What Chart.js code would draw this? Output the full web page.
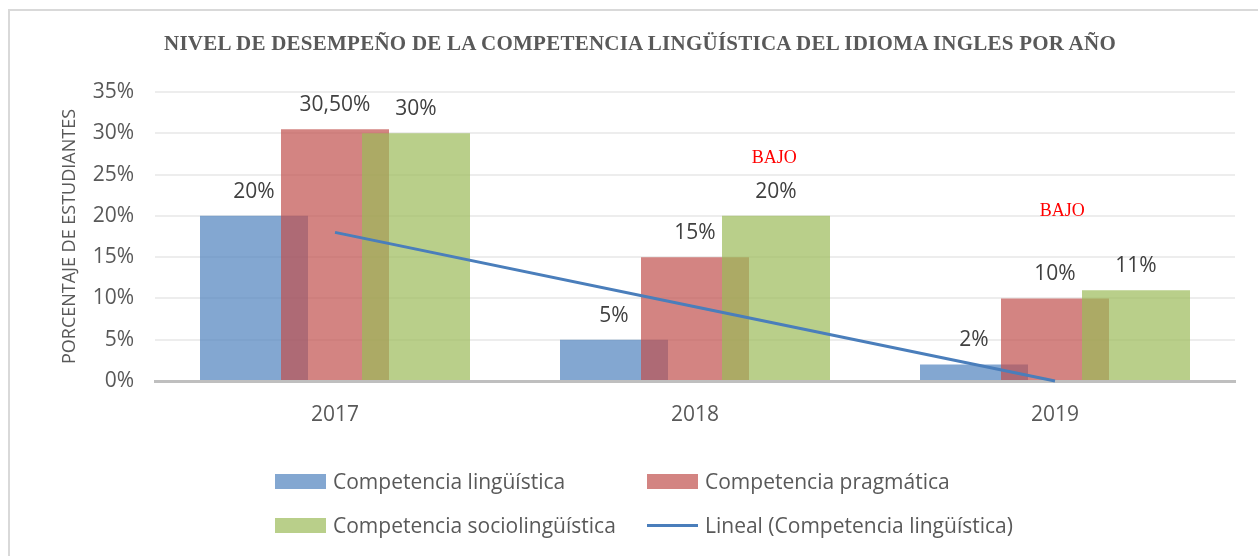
<!DOCTYPE html>
<html>
<head>
<meta charset="utf-8">
<script src="https://cdn.jsdelivr.net/npm/chart.js@4.4.0/dist/chart.umd.min.js"></script>
<style>
  html, body { margin: 0; padding: 0; background: #fff; }
  #wrap { position: relative; width: 1258px; height: 556px; overflow: hidden; }
  #frame { position: absolute; left: 8px; top: 9px; width: 1260px; height: 560px;
           border-top: 2px solid #d9d9d9; border-left: 2px solid #d9d9d9; }
  #chart { position: absolute; left: 0; top: 0; }
  #title { position: absolute; left: 164px; top: 31px; white-space: nowrap;
           font: bold 21px "Liberation Serif", serif; color: #595959; }
  #legend { position: absolute; left: 275px; top: 459px;
            display: grid; grid-template-columns: 372px auto; grid-auto-rows: 44px;
            font: 21px "Open Sans", sans-serif; color: #595959; }
  .item { display: flex; align-items: center; }
  .swatch { width: 51px; height: 15px; margin-right: 7px; }
  .swatch.line { height: 3px; margin-top: 1px; margin-bottom: 1px; }
</style>
</head>
<body>
<div id="wrap">
  <div id="frame"></div>
  <canvas id="chart" width="1258" height="556"></canvas>
  <div id="title">NIVEL DE DESEMPEÑO DE LA COMPETENCIA LINGÜÍSTICA DEL IDIOMA INGLES POR AÑO</div>
  <div id="legend"></div>
</div>
<script>
const years = ["2017", "2018", "2019"];
const linguistica = [20, 5, 2];
const pragmatica = [30.5, 15, 10];
const sociolinguistica = [30, 20, 11];
const tendencia = [18, 9, 0];

const seriesNames = [
  "Competencia lingüística",
  "Competencia pragmática",
  "Competencia sociolingüística",
  "Lineal (Competencia lingüística)"
];
const seriesColors = [
  "rgba(79, 129, 189, 0.7)",
  "rgba(192, 80, 77, 0.7)",
  "rgba(155, 187, 89, 0.7)",
  "#4a7ebb"
];

// red "BAJO" notes, placed on the category / value scales
const bajoText = ["BAJO", "BAJO"];
const bajoX = [1.22, 2.02];
const bajoY = [27, 20.5];

function pct(v) {
  return Number.isInteger(v) ? v + "%" : v.toFixed(2).replace(".", ",") + "%";
}

// draw datasets first to last so later bars sit on top
const drawInOrder = {
  id: "drawInOrder",
  beforeDatasetsDraw(chart) {
    chart.getSortedVisibleDatasetMetas().forEach((meta) => meta.controller.draw());
    return false;
  }
};

const barLabels = {
  id: "barLabels",
  afterDraw(chart) {
    const ctx = chart.ctx;
    ctx.save();
    ctx.font = '21px "Open Sans"';
    ctx.fillStyle = "#404040";
    ctx.textAlign = "center";
    ctx.textBaseline = "middle";
    chart.data.datasets.forEach((ds, i) => {
      if (ds.type !== "bar") return;
      chart.getDatasetMeta(i).data.forEach((bar, j) => {
        ctx.fillText(pct(ds.data[j]), bar.x, bar.y - 24);
      });
    });
    ctx.font = '18px "Liberation Serif"';
    ctx.fillStyle = "#ff0000";
    const xs = chart.scales.x;
    const ys = chart.scales.y;
    bajoText.forEach((t, k) => {
      ctx.fillText(t, xs.getPixelForValue(bajoX[k]), ys.getPixelForValue(bajoY[k]));
    });
    ctx.restore();
  }
};

function barSet(i, data) {
  return {
    type: "bar",
    label: seriesNames[i],
    data: data,
    backgroundColor: seriesColors[i],
    borderWidth: 0,
    categoryPercentage: 0.675,
    barPercentage: 4 / 3
  };
}

const chart = new Chart(document.getElementById("chart"), {
  type: "bar",
  data: {
    labels: years,
    datasets: [
      barSet(0, linguistica),
      barSet(1, pragmatica),
      barSet(2, sociolinguistica),
      {
        type: "line",
        label: seriesNames[3],
        data: tendencia,
        borderColor: seriesColors[3],
        borderWidth: 3,
        pointRadius: 0,
        fill: false
      }
    ]
  },
  options: {
    responsive: false,
    animation: false,
    events: [],
    layout: { padding: { left: 56, top: 92, right: 23, bottom: 0 } },
    plugins: {
      legend: { display: false },
      tooltip: { enabled: false },
      title: { display: false }
    },
    scales: {
      x: {
        grid: { display: false },
        border: { display: true, color: "#bfbfbf", width: 3 },
        ticks: {
          color: "#595959",
          font: { family: "Open Sans", size: 21 },
          padding: 13
        },
        afterFit(scale) { scale.height = 175; }
      },
      y: {
        min: 0,
        max: 35,
        border: { display: false },
        grid: { color: "#ededed", lineWidth: 2, drawTicks: false },
        ticks: {
          stepSize: 5,
          color: "#595959",
          font: { family: "Open Sans", size: 21 },
          padding: 21,
          callback: (v) => v + "%"
        },
        title: {
          display: true,
          text: "PORCENTAJE DE ESTUDIANTES",
          color: "#595959",
          font: { family: "Open Sans", size: 18 },
          padding: { top: 3, bottom: 4 }
        },
        afterFit(scale) { scale.width = 99; }
      }
    }
  },
  plugins: [drawInOrder, barLabels]
});

// stretch the title across the same span as the original
const title = document.getElementById("title");
const gap = (952 - title.getBoundingClientRect().width) / title.textContent.length;
title.style.letterSpacing = gap + "px";

// legend in two columns
const legend = document.getElementById("legend");
seriesNames.forEach((name, i) => {
  const item = document.createElement("div");
  item.className = "item";
  const sw = document.createElement("span");
  sw.className = i === 3 ? "swatch line" : "swatch";
  sw.style.background = seriesColors[i];
  const tx = document.createElement("span");
  tx.textContent = name;
  item.appendChild(sw);
  item.appendChild(tx);
  legend.appendChild(item);
});
</script>
</body>
</html>
